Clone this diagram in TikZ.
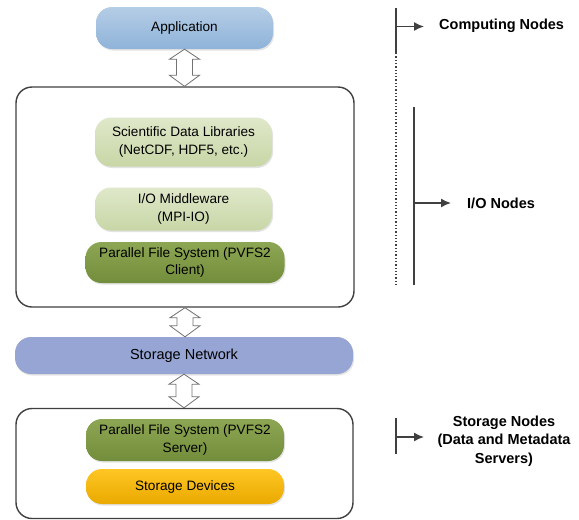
\documentclass[tikz,border=0pt]{standalone}
\usepackage{fontspec}
\setmainfont{Liberation Sans}
\usetikzlibrary{shadows,arrows.meta,calc}
\definecolor{appT}{HTML}{B5CDE6}
\definecolor{appB}{HTML}{8FB3D9}
\definecolor{lgT}{HTML}{DFE8CA}
\definecolor{lgB}{HTML}{C8D6A6}
\definecolor{dgT}{HTML}{8DA653}
\definecolor{dgB}{HTML}{728D3B}
\definecolor{snC}{HTML}{96A5D3}
\definecolor{sdT}{HTML}{FFC624}
\definecolor{sdB}{HTML}{E9A900}
\definecolor{lineC}{HTML}{404040}
\newcommand\hollowarrow[2]{%
  \draw[harrow] let \p1=(#1), \p2=(#2) in
    (\x1,\y1) -- (\x1+15pt,\y1-10pt) -- (\x1+8pt,\y1-10pt) -- (\x1+8pt,\y2+11pt)
    -- (\x1+15pt,\y2+11pt) -- (\x1,\y2) -- (\x1-15pt,\y2+11pt) -- (\x1-8pt,\y2+11pt)
    -- (\x1-8pt,\y1-10pt) -- (\x1-15pt,\y1-10pt) -- cycle;}
\tikzset{
  pill/.style={rounded corners=16pt, draw=none, align=center, text=black,
    inner sep=0pt, font=\fontsize{13.6}{17.5}\selectfont,
    drop shadow={opacity=0.22, shadow xshift=1pt, shadow yshift=-1.5pt}},
  group/.style={draw=lineC, line width=1.4pt, rounded corners=16pt, fill=white, inner sep=0pt},
  harrow/.style={draw=black!55, fill=white, line width=0.8pt, line join=miter},
  brack/.style={draw=lineC, line width=1.5pt},
  brarrow/.style={draw=lineC, line width=1.5pt, -{Latex[length=10pt,width=9pt]}},
  lab/.style={inner sep=0pt, align=center, font=\fontsize{14.5}{18.5}\selectfont\bfseries}
}
\begin{document}
\begin{tikzpicture}[x=1pt,y=-1pt]
\useasboundingbox (0,0) rectangle (579,520);
% groups
\node[group, minimum width=338pt, minimum height=220pt] (io) at (185,197) {};
\node[group, minimum width=337pt, minimum height=110pt] (st) at (184.5,463.5) {};
% pills
\node[pill, shade, top color=appT, bottom color=appB, minimum width=177pt, minimum height=42pt] (app) at (184.5,28) {\raisebox{-1.5pt}{Application}};
\node[pill, shade, top color=lgT, bottom color=lgB, minimum width=177pt, minimum height=49pt] (sdl) at (183.5,142) {Scientific Data Libraries\\(NetCDF, HDF5, etc.)};
\node[pill, shade, top color=lgT, bottom color=lgB, minimum width=177pt, minimum height=43pt] (mw) at (183.5,209) {I/O Middleware\\(MPI-IO)};
\node[pill, shade, top color=dgT, bottom color=dgB, minimum width=199pt, minimum height=41pt] (pfsc) at (185,262.5) {Parallel File System (PVFS2\\Client)};
\node[pill, fill=snC, minimum width=338pt, minimum height=37pt, font=\fontsize{14.5}{18}\selectfont] (sn) at (184,355.5) {\raisebox{-1.5pt}{Storage Network}};
\node[pill, shade, top color=dgT, bottom color=dgB, minimum width=198pt, minimum height=42pt] (pfss) at (185,440) {Parallel File System (PVFS2\\Server)};
\node[pill, shade, top color=sdT, bottom color=sdB, minimum width=198pt, minimum height=35pt] (sd) at (185,486.5) {\raisebox{-1.5pt}{Storage Devices}};
% hollow double arrows
\hollowarrow{app.south}{io.north}
\hollowarrow{io.south}{sn.north}
\hollowarrow{sn.south}{st.north}
% right-side brackets
\coordinate (cTop) at (396,8);
\coordinate (cMid) at (396,53);
\coordinate (cBot) at (396,285);
\coordinate (cA) at (396,26.5);
\coordinate (cT) at (424,26.5);
\draw[brack] (cTop) -- (cMid);
\draw[lineC, line width=1.3pt, dotted] (cMid) -- (cBot);
\draw[brarrow] (cA) -- (cT);
\node[lab, anchor=west] (lcomp) at (439,26) {Computing Nodes};
\coordinate (iTop) at (414,107);
\coordinate (iBot) at (414,285);
\coordinate (iA) at (414,203);
\coordinate (iT) at (451,203);
\draw[brack] (iTop) -- (iBot);
\draw[brarrow] (iA) -- (iT);
\node[lab, anchor=west] (lio) at (467,203) {I/O Nodes};
\coordinate (sTop) at (396,418);
\coordinate (sBot) at (396,454);
\coordinate (sA) at (396,437);
\coordinate (sT) at (424,437);
\draw[brack] (sTop) -- (sBot);
\draw[brarrow] (sA) -- (sT);
\node[lab] (lst) at (504,441) {Storage Nodes\\(Data and Metadata\\Servers)};
\end{tikzpicture}
\end{document}
